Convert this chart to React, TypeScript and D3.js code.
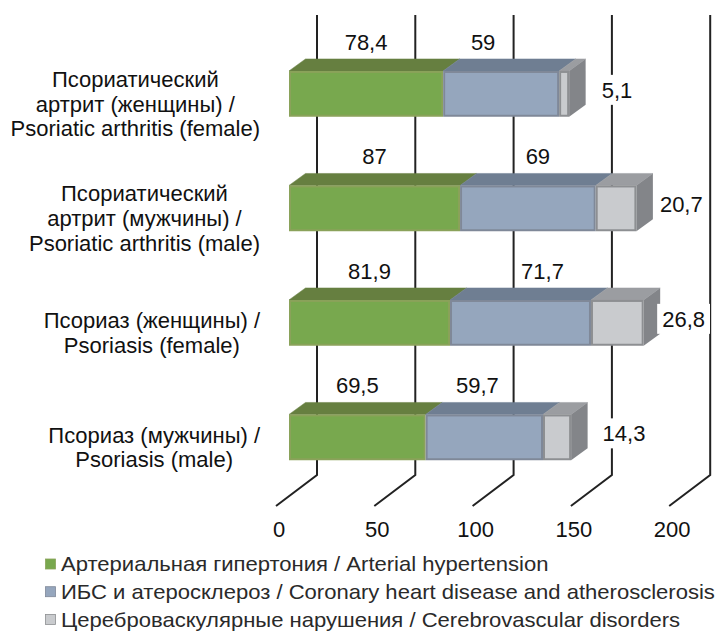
import { useEffect, useRef } from 'react';
import * as d3 from 'd3';

const WIDTH = 715;
const HEIGHT = 632;

// ---- data ---------------------------------------------------------------
const CATEGORY_LINES = [
  ['Псориатический', 'артрит (женщины) /', 'Psoriatic arthritis (female)'],
  ['Псориатический', 'артрит (мужчины) /', 'Psoriatic arthritis (male)'],
  ['Псориаз (женщины) /', 'Psoriasis (female)'],
  ['Псориаз (мужчины) /', 'Psoriasis (male)'],
];
const HYPERTENSION = [78.4, 87, 81.9, 69.5];
const CORONARY = [59, 69, 71.7, 59.7];
const CEREBRO = [5.1, 20.7, 26.8, 14.3];
const SERIES_NAMES = [
  'Артериальная гипертония / Arterial hypertension',
  'ИБС и атеросклероз / Coronary heart disease and atherosclerosis',
  'Цереброваскулярные нарушения / Cerebrovascular disorders',
];
const X_TICKS = [0, 50, 100, 150, 200];

// ---- styling / layout ---------------------------------------------------
const FONT = '"Liberation Sans", Arial, Helvetica, sans-serif';
const FRONT = ['#78a84e', '#95a6bd', '#c9cbce'];
const TOP = ['#667f40', '#6f7e92', '#9b9da1'];
const SIDE = ['#5a7236', '#66748a', '#838589'];
const EDGE = ['#8aa25a', '#7f8898', '#8d8f92'];
const DX = 16.5; // bar depth offset
const DY = -12;
const WALL_DX = 28; // back wall offset relative to bar front
const FLOOR_DX = -41;
const FLOOR_DY = 31;
const WALL_TOP = 15;
const WALL_BOTTOM = 475;
// manual placement tweaks of the data labels (px), as in the original
const BLUE_LABEL_NUDGE = [-18, 10, 22, -7];
const GRAY_LABEL_GAP = [16, 7, 2, 15];

export default function App() {
  const svgRef = useRef<SVGSVGElement | null>(null);

  useEffect(() => {
    const svgEl = svgRef.current;
    if (!svgEl) return;
    const svg = d3.select(svgEl);
    svg.selectAll('*').remove();

    const rows = CATEGORY_LINES.map((_, i) => ({
      idx: i,
      s0: HYPERTENSION[i],
      s1: CORONARY[i],
      s2: CEREBRO[i],
    }));
    const keys = ['s0', 's1', 's2'];
    const stacked = d3.stack<(typeof rows)[number]>().keys(keys)(rows);

    const xScale = d3.scaleLinear().domain([0, 200]).range([289, 682.2]);
    const yScale = d3
      .scaleBand<number>()
      .domain(rows.map((r) => r.idx))
      .range([36.6, 494.6])
      .paddingInner(0.6)
      .paddingOuter(0.3);
    const bw = yScale.bandwidth();

    // ---- back wall gridlines + floor ----
    const grid = svg.append('g');
    X_TICKS.forEach((t) => {
      const xb = xScale(t) + WALL_DX;
      grid
        .append('path')
        .attr('d', `M${xb},${WALL_TOP}V${WALL_BOTTOM}l${FLOOR_DX},${FLOOR_DY}`)
        .attr('fill', 'none')
        .attr('stroke', '#222')
        .attr('stroke-width', 2);
      grid
        .append('text')
        .attr('x', xScale(t) - 10)
        .attr('y', 537)
        .attr('text-anchor', 'middle')
        .attr('font-family', FONT)
        .attr('font-size', 22)
        .attr('fill', '#111')
        .text(String(t));
    });

    // ---- 3D bars ----
    const bars = svg.append('g');
    rows.forEach((r, i) => {
      const y0 = yScale(r.idx) ?? 0;
      const y1 = y0 + bw;
      stacked.forEach((layer, k) => {
        const [a, b] = layer[i];
        const xa = xScale(a);
        const xb = xScale(b);
        // top face
        bars
          .append('path')
          .attr('d', `M${xa},${y0}L${xa + DX},${y0 + DY}L${xb + DX},${y0 + DY}L${xb},${y0}Z`)
          .attr('fill', TOP[k])
          .attr('stroke', TOP[k])
          .attr('stroke-width', 0.5);
        // front face
        bars
          .append('rect')
          .attr('x', xa + 1)
          .attr('y', y0 + 1)
          .attr('width', Math.max(0, xb - xa - 2))
          .attr('height', bw - 2)
          .attr('fill', FRONT[k])
          .attr('stroke', EDGE[k])
          .attr('stroke-width', 2);
        if (k === stacked.length - 1) {
          bars
            .append('path')
            .attr('d', `M${xb},${y0}L${xb + DX},${y0 + DY}L${xb + DX},${y1 + DY}L${xb},${y1}Z`)
            .attr('fill', SIDE[k]);
        }
      });
    });

    // ---- value labels ----
    const fmt = (v: number) => String(v).replace('.', ',');
    const labels = svg.append('g').attr('font-family', FONT).attr('font-size', 22).attr('fill', '#111');
    const addLabel = (x: number, y: number, text: string, anchor: string) => {
      const g = labels.append('g');
      const tEl = g
        .append('text')
        .attr('x', x)
        .attr('y', y)
        .attr('dy', '0.35em')
        .attr('text-anchor', anchor)
        .text(text);
      const box = (tEl.node() as SVGTextElement).getBBox();
      g.insert('rect', 'text')
        .attr('x', box.x - 5)
        .attr('y', y - 15)
        .attr('width', box.width + 10)
        .attr('height', 30)
        .attr('fill', '#fff');
    };
    rows.forEach((r, i) => {
      const y0 = yScale(r.idx) ?? 0;
      const labelY = y0 + DY - 17;
      const g = stacked[0][i];
      addLabel((xScale(g[0]) + xScale(g[1])) / 2, labelY, fmt(HYPERTENSION[i]), 'middle');
      const b = stacked[1][i];
      addLabel((xScale(b[0]) + xScale(b[1])) / 2 + BLUE_LABEL_NUDGE[i], labelY, fmt(CORONARY[i]), 'middle');
      const c = stacked[2][i];
      addLabel(xScale(c[1]) + DX + GRAY_LABEL_GAP[i], y0 + bw / 2 - 4, fmt(CEREBRO[i]), 'start');
    });

    // ---- category labels ----
    const cat = svg.append('g').attr('font-family', FONT).attr('font-size', 22).attr('fill', '#111');
    const lineH = 24.7;
    CATEGORY_LINES.forEach((lines, i) => {
      const center = (yScale(i) ?? 0) + bw / 2 + 10;
      const g = cat.append('g');
      const texts = lines.map((ln, j) =>
        g
          .append('text')
          .attr('y', center + (j - (lines.length - 1) / 2) * lineH)
          .attr('dy', '0.35em')
          .attr('text-anchor', 'middle')
          .text(ln),
      );
      const maxW = d3.max(texts, (t) => (t.node() as SVGTextElement).getComputedTextLength()) ?? 0;
      texts.forEach((t) => t.attr('x', 260 - maxW / 2));
    });

    // ---- legend ----
    const legend = svg.append('g');
    SERIES_NAMES.forEach((name, k) => {
      const cy = 564 + k * 27.7;
      legend
        .append('rect')
        .attr('x', 45.5)
        .attr('y', cy - 5)
        .attr('width', 10)
        .attr('height', 10)
        .attr('fill', FRONT[k])
        .attr('stroke', EDGE[k])
        .attr('stroke-width', 0.8);
      legend
        .append('text')
        .attr('transform', `translate(61, ${cy}) scale(1.05, 1)`)
        .attr('dy', '0.35em')
        .attr('font-family', FONT)
        .attr('font-size', 21)
        .attr('fill', '#2a2a2a')
        .text(name);
    });
  }, []);

  return (
    <svg
      ref={svgRef}
      width={WIDTH}
      height={HEIGHT}
      viewBox={`0 0 ${WIDTH} ${HEIGHT}`}
      style={{ position: 'absolute', left: 0, top: 0, background: '#fff' }}
    />
  );
}
